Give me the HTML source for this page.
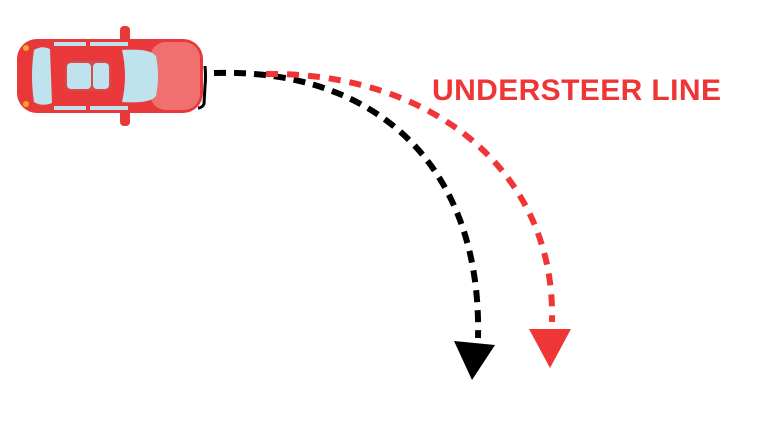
<!DOCTYPE html>
<html><head><style>
html,body{margin:0;padding:0;background:#fff;width:780px;height:438px;overflow:hidden}
</style></head><body>
<svg width="780" height="438" viewBox="0 0 780 438" xmlns="http://www.w3.org/2000/svg">
<g>
<rect x="120" y="26" width="10" height="22" rx="4" fill="#e8383a"/>
<rect x="120" y="104" width="10" height="22" rx="4" fill="#e8383a"/>
<path d="M205,66 Q206,76 205,86 L204,104 Q202,108 198,108" fill="none" stroke="#000" stroke-width="3"/>
<rect x="17" y="39" width="186" height="74" rx="20" fill="#e8383a"/>
<rect x="150" y="42" width="50" height="68" rx="16" fill="#f07070"/>
<path d="M34,50 Q42,45 50,49 L52,103 Q42,107 34,102 Q30,76 34,50Z" fill="#bfe3ee"/>
<path d="M122,50 Q150,48 156,56 Q160,76 156,96 Q150,104 122,102 Q128,76 122,50Z" fill="#bfe3ee"/>
<rect x="65" y="61" width="46" height="30" rx="6" fill="#d94a4a"/>
<rect x="67" y="63" width="24" height="26" rx="4" fill="#bfe3ee"/>
<rect x="93" y="63" width="16" height="26" rx="4" fill="#bfe3ee"/>
<rect x="54" y="42" width="32" height="4" fill="#bfe3ee"/>
<rect x="90" y="42" width="38" height="4" fill="#bfe3ee"/>
<rect x="54" y="106" width="32" height="4" fill="#bfe3ee"/>
<rect x="90" y="106" width="38" height="4" fill="#bfe3ee"/>
<circle cx="26" cy="48" r="3" fill="#f5a623"/>
<circle cx="26" cy="104" r="3" fill="#f5a623"/>
</g>
<path d="M214,73 C380,68 482,170 478,338" fill="none" stroke="#000" stroke-width="6" stroke-dasharray="12,8"/>
<polygon points="454,341 495,345 472,380" fill="#000"/>
<path d="M266,74 C430,72 556,170 552,322" fill="none" stroke="#ef3535" stroke-width="6" stroke-dasharray="12,9"/>
<polygon points="529,329 571,329 550,368" fill="#ef3535"/>
<text x="432" y="100" font-family="Liberation Sans, sans-serif" font-weight="bold" font-size="30" letter-spacing="0.4" fill="#ef3535">UNDERSTEER LINE</text>
</svg>
</body></html>
